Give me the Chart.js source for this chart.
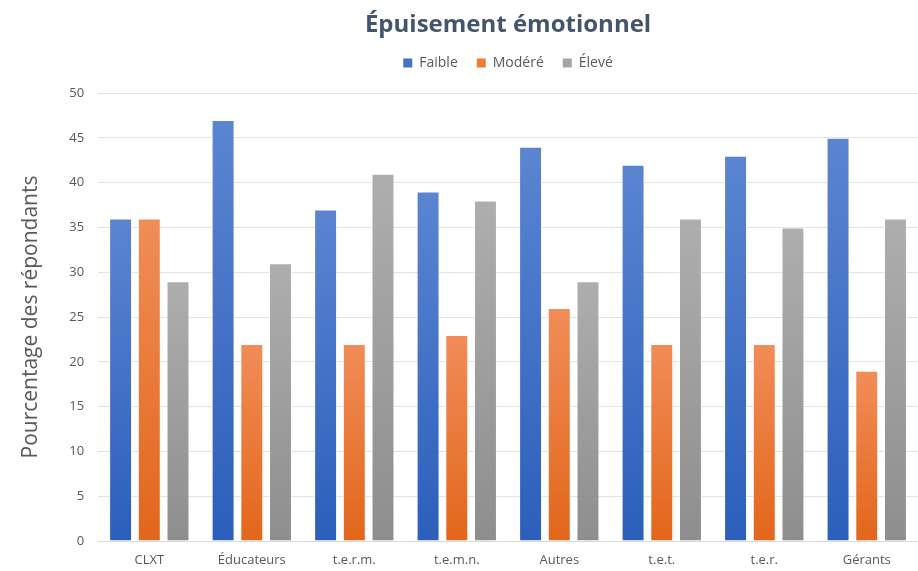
<!DOCTYPE html>
<html>
<head>
<meta charset="utf-8">
<script src="https://cdn.jsdelivr.net/npm/chart.js@4.4.0/dist/chart.umd.min.js"></script>
<style>
  html, body { margin: 0; padding: 0; background: #fff; }
  #wrap { width: 918px; height: 571px; }
</style>
</head>
<body>
<div id="wrap"><canvas id="chart"></canvas></div>
<script>
// Categories and values (percent of respondents)
const categories = ['CLXT', 'Éducateurs', 't.e.r.m.', 't.e.m.n.', 'Autres', 't.e.t.', 't.e.r.', 'Gérants'];
const faible = [36, 47, 37, 39, 44, 42, 43, 45];
const modere = [36, 22, 22, 23, 26, 22, 22, 19];
const eleve = [29, 31, 41, 38, 29, 36, 35, 36];

// per-bar vertical gradient, lighter at the top like the original
function barGradient(top, bottom) {
    return function (ctx) {
        const chart = ctx.chart;
        const y = chart.scales.y;
        if (!y || ctx.type !== 'data') return bottom;
        const yTop = y.getPixelForValue(ctx.parsed.y);
        const yBase = y.getPixelForValue(0);
        if (!isFinite(yTop) || !isFinite(yBase) || yTop === yBase) return bottom;
        const g = chart.ctx.createLinearGradient(0, yTop, 0, yBase);
        g.addColorStop(0, top);
        g.addColorStop(1, bottom);
        return g;
    };
}

// a bit more room between the legend and the plot
const legendGap = {
    id: 'legendGap',
    afterInit(chart) {
        const legend = chart.legend;
        if (!legend) return;
        const fit = legend.fit;
        legend.fit = function () {
            fit.call(this);
            this.height += 13;
        };
    }
};

const ctx = document.getElementById('chart').getContext('2d');
const chart = new Chart(ctx, {
    type: 'bar',
    data: {
        labels: categories,
        datasets: [
            {
                label: 'Faible',
                data: faible,
                backgroundColor: barGradient('#5b85d1', '#2b5fbb'),
                borderColor: 'rgba(255,255,255,0.6)',
                borderWidth: 1
            },
            {
                label: 'Modéré',
                data: modere,
                backgroundColor: barGradient('#f18d58', '#e2661b'),
                borderColor: 'rgba(255,255,255,0.6)',
                borderWidth: 1
            },
            {
                label: 'Élevé',
                data: eleve,
                backgroundColor: barGradient('#aeaeae', '#8e8e8e'),
                borderColor: 'rgba(255,255,255,0.6)',
                borderWidth: 1
            }
        ]
    },
    plugins: [legendGap],
    options: {
        responsive: true,
        maintainAspectRatio: false,
        animation: false,
        datasets: {
            bar: { categoryPercentage: 0.84, barPercentage: 0.8 }
        },
        layout: { padding: { top: 0, right: 0, left: 14, bottom: 0 } },
        plugins: {
            title: {
                display: true,
                fullSize: false,
                text: 'Épuisement émotionnel',
                color: '#44546a',
                font: { family: 'Open Sans', size: 24, weight: 'bold', lineHeight: 1.0 },
                padding: { top: 13, bottom: 0 }
            },
            legend: {
                position: 'top',
                fullSize: false,
                labels: {
                    color: '#595959',
                    font: { family: 'Open Sans', size: 14 },
                    boxWidth: 9,
                    boxHeight: 9,
                    padding: 19,
                    generateLabels: function (c) {
                        const solid = ['#4472c4', '#ed7d31', '#a5a5a5'];
                        return c.data.datasets.map((d, i) => ({
                            text: d.label,
                            fillStyle: solid[i],
                            strokeStyle: solid[i],
                            lineWidth: 0,
                            fontColor: '#595959',
                            hidden: !c.isDatasetVisible(i),
                            datasetIndex: i
                        }));
                    }
                }
            },
            tooltip: { enabled: false }
        },
        scales: {
            x: {
                grid: { display: false, drawTicks: false },
                border: { color: '#d9d9d9' },
                ticks: {
                    color: '#595959',
                    font: { family: 'Open Sans', size: 13 },
                    padding: 11
                },
                afterFit: function (scale) { scale.height = 30; }
            },
            y: {
                min: 0,
                max: 50,
                ticks: {
                    stepSize: 5,
                    color: '#595959',
                    font: { family: 'Open Sans', size: 13 },
                    padding: 14
                },
                grid: { color: '#e3e3e3', drawTicks: false },
                border: { display: false },
                title: {
                    display: true,
                    text: 'Pourcentage des répondants',
                    color: '#595959',
                    font: { family: 'Open Sans', size: 21 },
                    padding: { top: 4, bottom: 12 }
                }
            }
        }
    }
});
</script>
</body>
</html>
